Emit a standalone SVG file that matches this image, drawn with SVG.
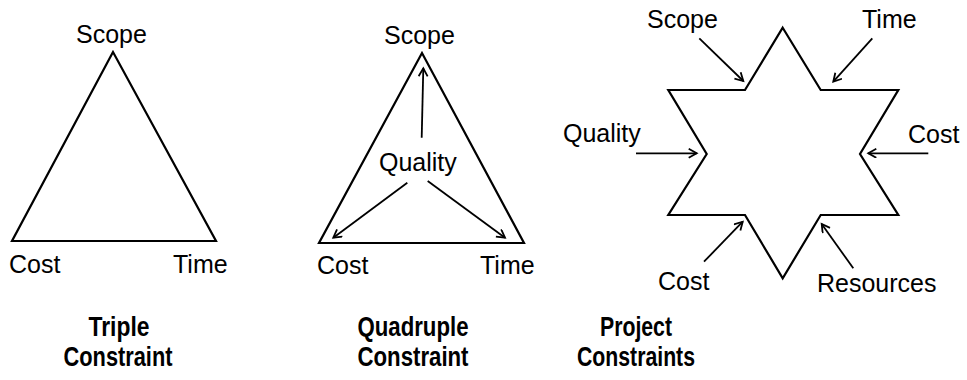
<svg xmlns="http://www.w3.org/2000/svg" width="967" height="380" viewBox="0 0 967 380">
<style>
.lbl{font-family:"Liberation Sans",Arial,sans-serif;font-size:25px;fill:#000}
.ttl{font-family:"Liberation Sans",Arial,sans-serif;font-size:28px;font-weight:bold;fill:#000}
.shape{fill:none;stroke:#000;stroke-width:2.2;stroke-linejoin:miter}
.arr{fill:none;stroke:#000;stroke-width:1.8;marker-end:url(#ah)}
</style>
<defs>
<marker id="ah" markerUnits="userSpaceOnUse" markerWidth="14" markerHeight="14" refX="9" refY="5" orient="auto">
<path d="M1,0.5 L9,5 L1,9.5" fill="none" stroke="#000" stroke-width="1.8"/>
</marker>
</defs>
<rect width="967" height="380" fill="#fff"/>
<g id="triple">
<polygon class="shape" points="113,52 12,241 216,241"/>
<text class="lbl" x="76" y="43">Scope</text>
<text class="lbl" x="9" y="273">Cost</text>
<text class="lbl" x="173" y="273">Time</text>
<text class="ttl" x="119" y="336" text-anchor="middle" textLength="61" lengthAdjust="spacingAndGlyphs">Triple</text>
<text class="ttl" x="118" y="366" text-anchor="middle" textLength="109" lengthAdjust="spacingAndGlyphs">Constraint</text>
</g>
<g id="quadruple">
<polygon class="shape" points="422,53 319,243 524,243"/>
<text class="lbl" x="384" y="44">Scope</text>
<text class="lbl" x="379" y="171">Quality</text>
<text class="lbl" x="317" y="274">Cost</text>
<text class="lbl" x="480" y="274">Time</text>
<text class="ttl" x="413" y="336" text-anchor="middle" textLength="111" lengthAdjust="spacingAndGlyphs">Quadruple</text>
<text class="ttl" x="413" y="366" text-anchor="middle" textLength="111" lengthAdjust="spacingAndGlyphs">Constraint</text>
</g>
<g id="project">
<polygon class="shape" points="782.7,27.7 820.7,90 898.3,90 860,154 898.3,215 820.7,215 782.7,278.3 745,215 668.3,215 706.7,154 668.3,90 745,90"/>
<text class="lbl" x="647" y="28">Scope</text>
<text class="lbl" x="862" y="28">Time</text>
<text class="lbl" x="563" y="142">Quality</text>
<text class="lbl" x="908" y="143">Cost</text>
<text class="lbl" x="658" y="290">Cost</text>
<text class="lbl" x="817" y="292">Resources</text>
<text class="ttl" x="636" y="336" text-anchor="middle" textLength="72" lengthAdjust="spacingAndGlyphs">Project</text>
<text class="ttl" x="636" y="366" text-anchor="middle" textLength="118" lengthAdjust="spacingAndGlyphs">Constraints</text>
</g>
<g id="connectors">
<line class="arr" x1="421.7" y1="137.7" x2="423.3" y2="68.3"/>
<line class="arr" x1="407.3" y1="182.7" x2="333.3" y2="237.7"/>
<line class="arr" x1="427.7" y1="181" x2="505" y2="237.7"/>
<line class="arr" x1="699.3" y1="38.3" x2="743.3" y2="81"/>
<line class="arr" x1="872.3" y1="38.3" x2="833.3" y2="81.7"/>
<line class="arr" x1="636" y1="153.3" x2="696.7" y2="153.3"/>
<line class="arr" x1="928.3" y1="153.3" x2="868.3" y2="153.3"/>
<line class="arr" x1="704" y1="261.7" x2="742.7" y2="221.7"/>
<line class="arr" x1="853.3" y1="268.3" x2="821.7" y2="224"/>
</g>
</svg>
